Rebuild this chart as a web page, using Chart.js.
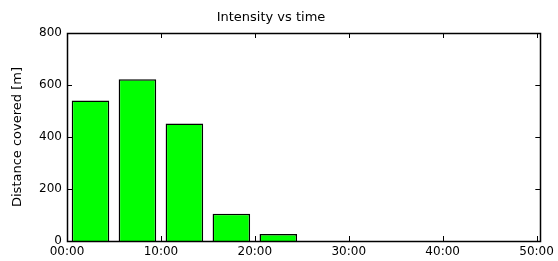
<!DOCTYPE html>
<html>
<head>
<meta charset="utf-8">
<script src="https://cdn.jsdelivr.net/npm/chart.js@4.4.1/dist/chart.umd.min.js"></script>
<style>
  html, body { margin: 0; padding: 0; background: #fff; }
  #wrap { width: 558px; height: 261px; position: relative; }
</style>
</head>
<body>
<div id="wrap"><canvas id="grafico"></canvas></div>
<script>
// bin centres in minutes, distance per bin in metres
const binCenters = [2.5, 7.5, 12.5, 17.5, 22.5]
const distance = [540, 622, 452, 105, 27]
const xTickValues = [0, 10, 20, 30, 40, 50]
const xTickLabels = ['00:00', '10:00', '20:00', '30:00', '40:00', '50:00']
const yTickValues = [0, 200, 400, 600, 800]

Chart.defaults.color = '#000'
Chart.defaults.font.family = '"DejaVu Sans", sans-serif'
Chart.defaults.font.size = 12

// box round the plot with inward ticks on every side
const caixa = {
    id: 'caixa',
    afterDraw(chart) {
        const ctx = chart.ctx
        const a = chart.chartArea
        const x = chart.scales.x, y = chart.scales.y
        const len = 5
        ctx.save()
        ctx.strokeStyle = '#000'
        ctx.lineWidth = 1.5
        ctx.strokeRect(Math.round(a.left) + 0.5, Math.round(a.top) + 0.5,
            Math.round(a.right - a.left), Math.round(a.bottom - a.top))
        ctx.lineWidth = 1
        ctx.beginPath()
        x.ticks.forEach(t => {
            const px = Math.round(x.getPixelForValue(t.value)) + 0.5
            ctx.moveTo(px, a.bottom); ctx.lineTo(px, a.bottom - len)
            ctx.moveTo(px, a.top); ctx.lineTo(px, a.top + len)
        })
        y.ticks.forEach(t => {
            const py = Math.round(y.getPixelForValue(t.value)) + 0.5
            ctx.moveTo(a.left, py); ctx.lineTo(a.left + len, py)
            ctx.moveTo(a.right, py); ctx.lineTo(a.right - len, py)
        })
        ctx.stroke()
        ctx.restore()
    }
}

new Chart(document.getElementById('grafico'), {
    type: 'bar',
    data: {
        datasets: [{
            label: 'Distance',
            data: binCenters.map((c, i) => ({ x: c, y: distance[i] })),
            backgroundColor: '#00ff00',
            borderColor: '#000',
            borderWidth: 1.5,
            categoryPercentage: 1,
            barPercentage: 0.8
        }]
    },
    options: {
        responsive: true,
        maintainAspectRatio: false,
        animation: false,
        layout: { padding: { left: 0, right: 16, top: 0, bottom: 0 } },
        plugins: {
            legend: { display: false },
            tooltip: { enabled: false },
            title: {
                display: true,
                text: 'Intensity vs time',
                font: { size: 13, weight: 'normal' },
                color: '#000',
                padding: { top: 10, bottom: 7.4 }
            }
        },
        scales: {
            x: {
                type: 'linear',
                offset: false,
                min: 0,
                max: 50.4,
                grid: { display: false, drawTicks: false, offset: false },
                border: { display: false },
                afterBuildTicks: s => { s.ticks = xTickValues.map(v => ({ value: v })) },
                afterFit: s => { s.height = 20 },
                ticks: {
                    padding: 4,
                    maxRotation: 0,
                    callback: v => xTickLabels[xTickValues.indexOf(v)]
                }
            },
            y: {
                min: 0,
                max: 800,
                grid: { display: false, drawTicks: false },
                border: { display: false },
                afterBuildTicks: s => { s.ticks = yTickValues.map(v => ({ value: v })) },
                afterFit: s => { s.width = 67 },
                ticks: { padding: 5 },
                title: {
                    display: true,
                    text: 'Distance covered [m]',
                    font: { size: 13 },
                    padding: { top: 10, bottom: 0 }
                }
            }
        }
    },
    plugins: [caixa]
})
</script>
</body>
</html>
